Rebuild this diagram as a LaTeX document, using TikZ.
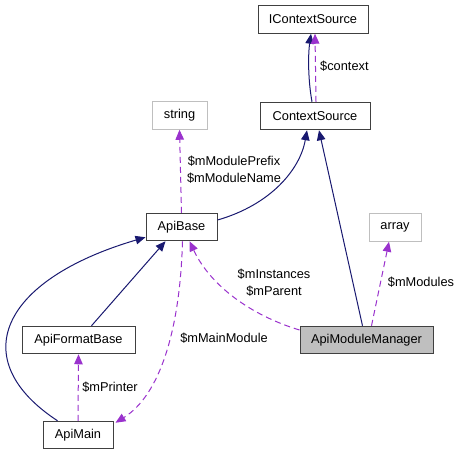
\documentclass[tikz,border=0pt]{standalone}
\usepackage{fontspec}
\setmainfont{Liberation Sans}
\usepackage{xcolor}
\usepackage{tikz}
\usetikzlibrary{arrows.meta,calc}
\definecolor{inhblue}{RGB}{25,25,112}
\definecolor{usepurple}{RGB}{154,50,205}
\definecolor{extgray}{RGB}{191,191,191}

\begin{document}
\begin{tikzpicture}[
  x=1pt, y=-1pt,
  font=\fontsize{12.8}{17}\selectfont,
  cls/.style={draw=black!75, fill=white, line width=1pt, minimum height=27.5pt, inner sep=0pt, align=center},
  extcls/.style={cls, draw=extgray},
  inh/.style={-{Triangle[length=10pt,width=8.5pt]}, draw=inhblue, line width=1pt},
  use/.style={-{Triangle[length=10pt,width=8.5pt]}, draw=usepurple, line width=1pt, dash pattern=on 6pt off 4pt},
  lbl/.style={align=center, inner sep=0pt}
]
\useasboundingbox (0,0) rectangle (462,456);

\node[cls, minimum width=110pt] (icsrc) at (313,19.5) {IContextSource};
\node[cls, minimum width=110pt] (csrc) at (315,116) {ContextSource};
\node[extcls, minimum width=55pt] (str) at (179.5,115.5) {string};
\node[cls, minimum width=71pt] (apibase) at (181.5,227) {ApiBase};
\node[extcls, minimum width=52pt] (arr) at (395,227.5) {array};
\node[cls, minimum width=113pt] (fmtbase) at (78.5,340) {ApiFormatBase};
\node[cls, minimum width=70pt] (apimain) at (78,435) {ApiMain};
\node[cls, fill=extgray, minimum width=133pt] (modmgr) at (366.5,340) {ApiModuleManager};

% inheritance
\draw[inh] ($(csrc.north)+(-3,0)$) .. controls (308,80) and (308,55) .. ($(icsrc.south)+(-2,0)$);
\draw[inh] ($(apibase.east)+(0,-7)$) .. controls (270,205) and (300,170) .. ($(csrc.south)+(-8,0)$);
\draw[inh] ($(modmgr.north)+(-4,0)$) -- ($(csrc.south)+(4,0)$);
\draw[inh] ($(fmtbase.north)+(13,0)$) -- ($(apibase.south)+(-16,0)$);
\draw[inh] ($(apimain.north west)+(15,0)$) .. controls (-35,360) and (0,280) .. ($(apibase.south west)+(0,-4)$);

% members
\draw[use] ($(csrc.north)+(1,0)$) -- ($(icsrc.south)+(2,0)$);
\node[lbl, anchor=west] (lctx) at (320,66) {\$context};
\draw[use] (apibase.north) -- (str.south);
\node[lbl] (lname) at (234,170) {\$mModulePrefix\\\$mModuleName};
\draw[use] ($(apibase.south)+(1,0)$) .. controls (180,330) and (160,395) .. ($(apimain.north east)+(2,2)$);
\node[lbl] (lmain) at (224,338) {\$mMainModule};
\draw[use] ($(modmgr.west)+(0,-10)$) .. controls (250,315) and (210,285) .. ($(apibase.south)+(8,0)$);
\node[lbl] (linst) at (274,283) {\$mInstances\\\$mParent};
\draw[use] (apimain.north) -- (fmtbase.north |- fmtbase.south);
\node[lbl] (lprint) at (110,387) {\$mPrinter};
\draw[use] ($(modmgr.north)+(5,0)$) -- ($(arr.south)+(-6,0)$);
\node[lbl] (lmods) at (421,282) {\$mModules};
\end{tikzpicture}
\end{document}
